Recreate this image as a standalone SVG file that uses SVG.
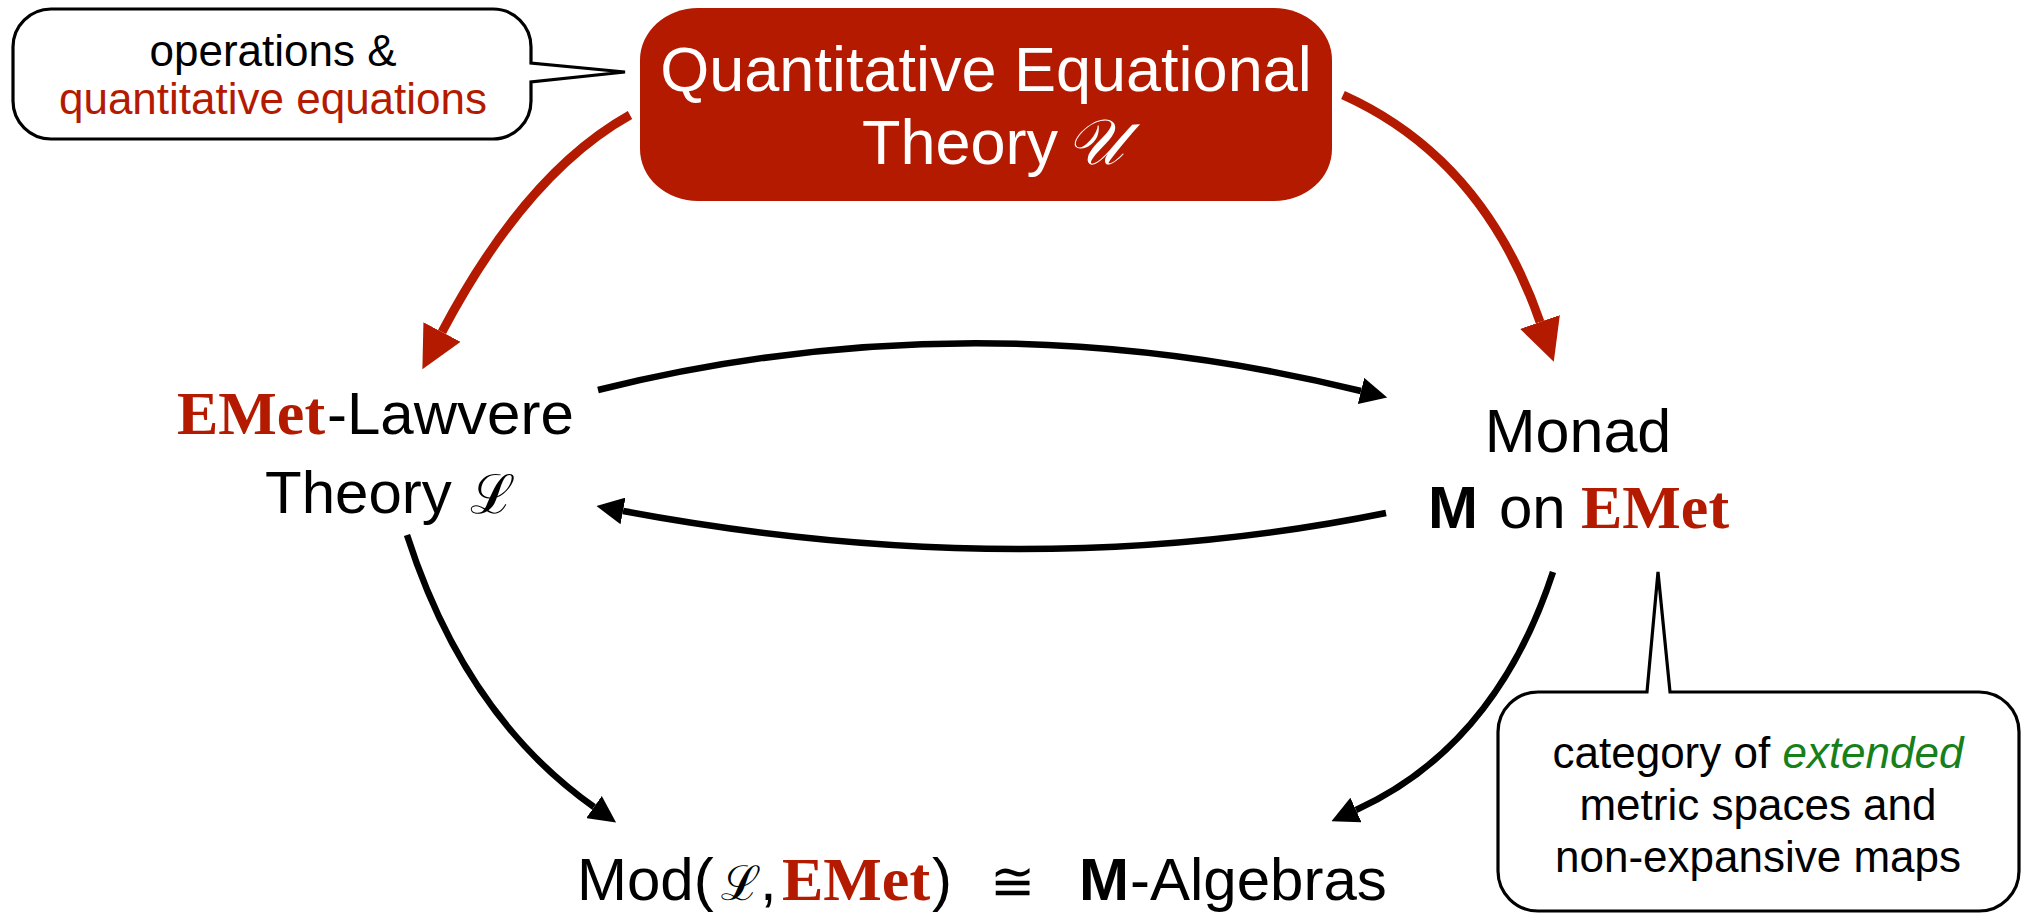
<svg xmlns="http://www.w3.org/2000/svg" width="2031" height="915" viewBox="0 0 2031 915">
<style>
.sans{font-family:"Liberation Sans",Arial,Helvetica,sans-serif}
.emet{font-family:"Liberation Serif","Times New Roman",serif;font-weight:bold;fill:#B41A00}
.math{font-family:"DejaVu Serif","Noto Sans",serif}
.bubble{fill:#fff;stroke:#000;stroke-width:3.2;stroke-linejoin:miter}
.conn-red{fill:none;stroke:#B41A00;stroke-width:9}
.conn-blk{fill:none;stroke:#000;stroke-width:6.5}
</style>
<defs>
<marker id="ah-red" markerUnits="userSpaceOnUse" markerWidth="42" markerHeight="42" viewBox="0 0 42 42" refX="0" refY="21" orient="auto"><path d="M0,0 L42,21 L0,42 z" fill="#B41A00"/></marker>
<marker id="ah-blk" markerUnits="userSpaceOnUse" markerWidth="27" markerHeight="27" viewBox="0 0 27 27" refX="0" refY="13.5" orient="auto"><path d="M0,0 L27,13.5 L0,27 z" fill="#000"/></marker>
</defs>
<rect width="2031" height="915" fill="#fff"/>

<g id="connectors">
<path class="conn-red" d="M630,115 Q526,173 442,332" marker-end="url(#ah-red)"/>
<path class="conn-red" d="M1343,95 Q1483,158 1540,322" marker-end="url(#ah-red)"/>
<path class="conn-blk" d="M598,390 Q975,296 1361,391" marker-end="url(#ah-blk)"/>
<path class="conn-blk" d="M1386,513 Q1025,586 623,511" marker-end="url(#ah-blk)"/>
<path class="conn-blk" d="M407,535 Q465,716 594,807" marker-end="url(#ah-blk)"/>
<path class="conn-blk" d="M1553,572 Q1496,746 1356,810" marker-end="url(#ah-blk)"/>
</g>

<g id="note-operations">
<path class="bubble" d="M51,9 H493 A38,38 0 0 1 531,47 V63 L625,72 L531,82 V101 A38,38 0 0 1 493,139 H51 A38,38 0 0 1 13,101 V47 A38,38 0 0 1 51,9 Z"/>
<text class="sans" x="273" y="66" font-size="44" text-anchor="middle" fill="#000">operations &amp;</text>
<text class="sans" x="273" y="114" font-size="44" text-anchor="middle" fill="#B41A00">quantitative equations</text>
</g>

<g id="node-theory-U">
<rect x="640" y="8" width="692" height="193" rx="58" ry="52" fill="#B41A00"/>
<text class="sans" x="986" y="91" font-size="63" text-anchor="middle" fill="#fff">Quantitative Equational</text>
<text class="sans" x="862" y="164" font-size="63" fill="#fff">Theory</text>
<text class="math" x="1066" y="164" font-size="64" font-style="italic" fill="#fff">𝒰</text>
</g>

<g id="node-lawvere">
<text class="emet" x="177" y="434" font-size="62">EMet</text>
<text class="sans" x="327" y="434" font-size="60" fill="#000">-Lawvere</text>
<text class="sans" x="265" y="513" font-size="60" fill="#000">Theory</text>
<text class="math" x="470" y="513" font-size="54" font-weight="bold" fill="#000">ℒ</text>
</g>

<g id="node-monad">
<text class="sans" x="1578" y="452" font-size="61" text-anchor="middle" fill="#000">Monad</text>
<text class="sans" x="1428" y="528" font-size="60" font-weight="bold" fill="#000">M</text>
<text class="sans" x="1499" y="528" font-size="60" fill="#000">on</text>
<text class="emet" x="1581" y="528" font-size="62">EMet</text>
</g>

<g id="node-algebras">
<text class="sans" x="577" y="900" font-size="60" fill="#000">Mod(</text>
<text class="math" x="721" y="900" font-size="48" font-weight="bold" fill="#000">ℒ</text>
<text class="sans" x="760" y="900" font-size="60" fill="#000">,</text>
<text class="emet" x="782" y="900" font-size="62">EMet</text>
<text class="sans" x="932" y="900" font-size="60" fill="#000">)</text>
<text class="math" x="1012" y="900" font-size="54" text-anchor="middle" fill="#000">≅</text>
<text class="sans" x="1079" y="900" font-size="60" font-weight="bold" fill="#000">M</text>
<text class="sans" x="1130" y="900" font-size="60" fill="#000">-Algebras</text>
</g>

<g id="note-emet">
<path class="bubble" d="M1538,692 H1647 L1658,572 L1670,692 H1979 A40,40 0 0 1 2019,732 V871 A40,40 0 0 1 1979,911 H1538 A40,40 0 0 1 1498,871 V732 A40,40 0 0 1 1538,692 Z"/>
<text class="sans" x="1758" y="768" font-size="44" text-anchor="middle" fill="#000">category of <tspan font-style="italic" fill="#18801A">extended</tspan></text>
<text class="sans" x="1758" y="820" font-size="44" text-anchor="middle" fill="#000">metric spaces and</text>
<text class="sans" x="1758" y="872" font-size="44" text-anchor="middle" fill="#000">non-expansive maps</text>
</g>
</svg>
